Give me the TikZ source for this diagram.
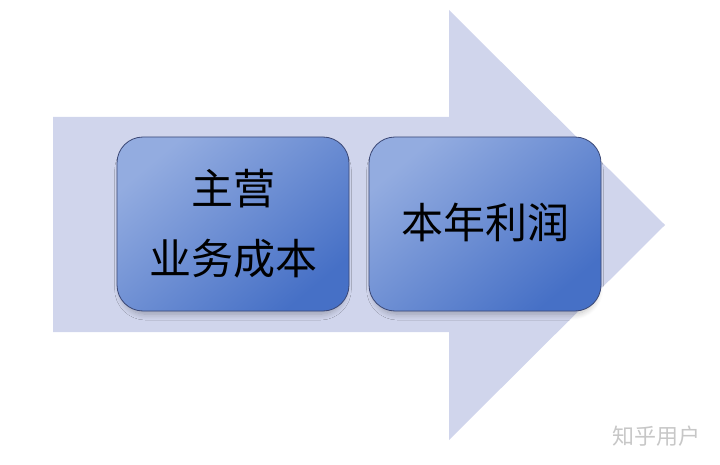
\documentclass[tikz,border=0pt]{standalone}
\usepackage{fontspec}
\newfontfamily\cjk{Noto Sans CJK SC}
\usetikzlibrary{shadows.blur}
\definecolor{arrowc}{HTML}{D0D5EC}
\definecolor{boxl}{HTML}{93ACE0}
\definecolor{boxd}{HTML}{4670C6}
\definecolor{boxb}{HTML}{3A4775}
\tikzset{
  box/.style={draw=boxb, line width=0.8pt, rounded corners=26pt,
    shading=axis, top color=boxl, bottom color=boxd, middle color=boxl!50!boxd, shading angle=40,
    blur shadow={shadow xshift=0pt, shadow yshift=-6pt, shadow scale=0.97, shadow blur steps=10, shadow opacity=25, shadow blur radius=6pt}},
  lbl/.style={font=\cjk\fontsize{42}{70}\selectfont, text=black, align=center}
}
\begin{document}
\begin{tikzpicture}[x=1pt,y=-1pt]
\useasboundingbox (0,0) rectangle (720,465);
\fill[arrowc] (53,117) -- (449,117) -- (449,10) -- (665,225) -- (449,440) -- (449,332) -- (53,332) -- cycle;
\path[box] (117,137) rectangle (349,311);
\path[box] (369,137) rectangle (601,311);
\node[lbl] (a) at (233,224) {主营\\业务成本};
\node[lbl] (b) at (485,222) {本年利润};
\node[font=\cjk\fontsize{22}{24}\selectfont, text=black!22] (w) at (656,436) {知乎用户};
\end{tikzpicture}
\end{document}
